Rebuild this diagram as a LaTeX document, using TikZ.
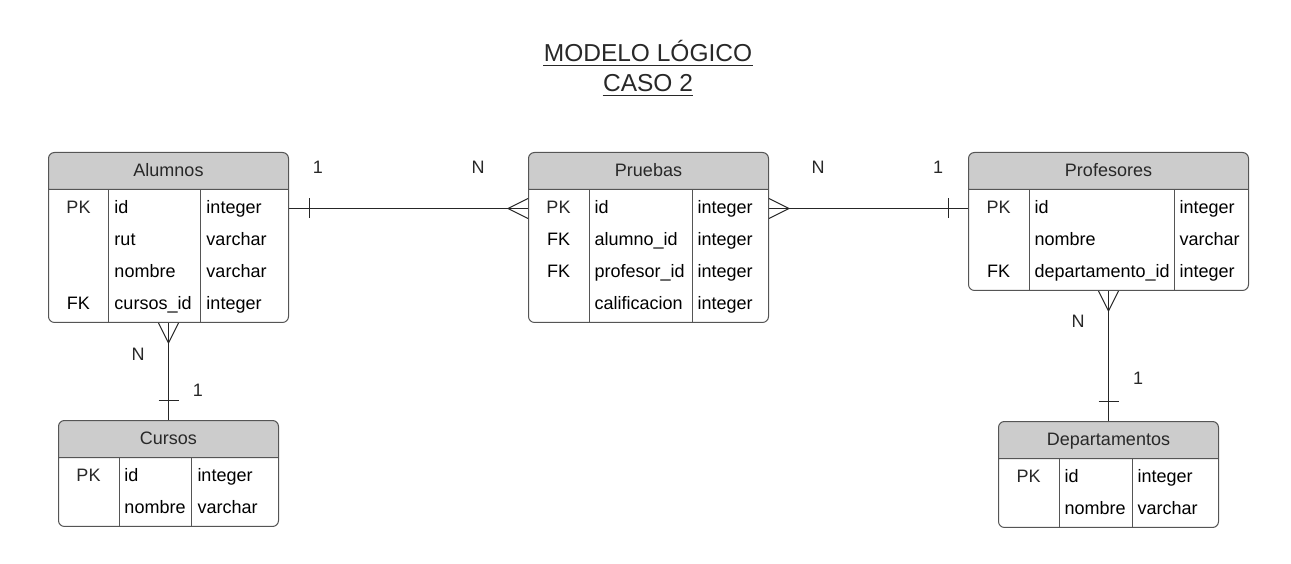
\documentclass[tikz,border=0pt]{standalone}
\usepackage{fontspec}
\setmainfont{Liberation Sans}
\usepackage{array,colortbl}
\usepackage{tikz}
\usetikzlibrary{shapes.multipart,positioning,calc}
\definecolor{mygray}{RGB}{204,204,204}
\definecolor{myline}{RGB}{85,85,85}
\definecolor{mytext}{RGB}{40,40,40}
\newcolumntype{C}[1]{>{\centering\arraybackslash}p{#1}}
\newcolumntype{L}[1]{>{\raggedright\arraybackslash}p{#1}}
\setlength{\arrayrulewidth}{1pt}
\arrayrulecolor{myline}
\renewcommand{\arraystretch}{1.481}
\newcommand{\cabecera}{\rule[-12.5pt]{0pt}{36pt}}
\newcommand{\filaarriba}{\rule{0pt}{23.4pt}}
\newcommand{\filaabajo}{\rule[-12.6pt]{0pt}{12.6pt}}

\begin{document}
\begin{tikzpicture}[
  x=1pt, y=-1pt,
  line width=1pt,
  tabla/.style={
    draw=myline,
    rounded corners=6pt,
    rectangle split,
    rectangle split parts=2,
    rectangle split part fill={mygray, white},
    inner sep=0pt,
    anchor=north west,
    text=mytext,
    font=\fontsize{18}{21.6}\selectfont
    },
  card/.style={text=mytext, font=\fontsize{18}{21.6}\selectfont},
  titulo/.style={text=mytext, inner sep=0pt, anchor=base, font=\fontsize{24.5}{30}\selectfont},
  conn/.style={draw=black!85}
]
\useasboundingbox (0,0) rectangle (1291,564);

\node[titulo] (titulo1) at (648,62) {MODELO LÓGICO};
\node[titulo] (titulo2) at (648,92) {CASO 2};
\draw[mytext, line width=1.6pt] ([yshift=-3.5pt]titulo1.base west) -- ([yshift=-3.5pt]titulo1.base east);
\draw[mytext, line width=1.6pt] ([yshift=-3.5pt]titulo2.base west) -- ([yshift=-3.5pt]titulo2.base east);

\node[tabla] (alumnos) at (48,152)
  {\cabecera Alumnos
  \nodepart{two}
  \begin{tabular}{@{}C{60pt}@{}|@{\hspace{5pt}}L{86pt}@{}|@{\hspace{5pt}}L{82pt}@{}}
    \filaarriba PK & id         & integer \\
       & rut        & varchar \\
       & nombre     & varchar \\
    \filaabajo FK & cursos\_id & integer
  \end{tabular}};

\node[tabla] (pruebas) at (528,152)
  {\cabecera Pruebas
  \nodepart{two}
  \begin{tabular}{@{}C{60pt}@{}|@{\hspace{5pt}}L{97pt}@{}|@{\hspace{5pt}}L{71pt}@{}}
    \filaarriba PK & id            & integer \\
    FK & alumno\_id    & integer \\
    FK & profesor\_id  & integer \\
    \filaabajo & calificacion  & integer
  \end{tabular}};

\node[tabla] (profesores) at (968,152)
  {\cabecera Profesores
  \nodepart{two}
  \begin{tabular}{@{}C{60pt}@{}|@{\hspace{5pt}}L{139pt}@{}|@{\hspace{5pt}}L{69pt}@{}}
    \filaarriba PK & id               & integer \\
       & nombre           & varchar \\
    \filaabajo FK & departamento\_id & integer
  \end{tabular}};

\node[tabla] (cursos) at (58,420)
  {\cabecera Cursos
  \nodepart{two}
  \begin{tabular}{@{}C{60pt}@{}|@{\hspace{5pt}}L{67pt}@{}|@{\hspace{5pt}}L{81pt}@{}}
    \filaarriba PK & id     & integer \\
    \filaabajo & nombre & varchar
  \end{tabular}};

\node[tabla] (departamentos) at (998,421)
  {\cabecera Departamentos
  \nodepart{two}
  \begin{tabular}{@{}C{60pt}@{}|@{\hspace{5pt}}L{67pt}@{}|@{\hspace{5pt}}L{81pt}@{}}
    \filaarriba PK & id     & integer \\
    \filaabajo & nombre & varchar
  \end{tabular}};

% alumnos - pruebas
\coordinate (ap1) at ([yshift=-19pt]alumnos.text split east);
\coordinate (ap2) at ([yshift=-19pt]pruebas.text split west);
\draw[conn] (ap1) -- (ap2);
\draw[conn] ($(ap1)+(20,-10)$) -- ++(0,20);
\draw[conn] ($(ap2)+(0,-10)$) -- ($(ap2)+(-20,0)$) -- ($(ap2)+(0,10)$);

% pruebas - profesores
\coordinate (pp1) at ([yshift=-19pt]pruebas.text split east);
\coordinate (pp2) at ([yshift=-19pt]profesores.text split west);
\draw[conn] (pp1) -- (pp2);
\draw[conn] ($(pp1)+(0,-10)$) -- ($(pp1)+(20,0)$) -- ($(pp1)+(0,10)$);
\draw[conn] ($(pp2)+(-20,-10)$) -- ++(0,20);

% alumnos - cursos
\draw[conn] (alumnos.south) -- (cursos.north);
\draw[conn] ($(alumnos.south)+(-10,0)$) -- ($(alumnos.south)+(0,20)$) -- ($(alumnos.south)+(10,0)$);
\draw[conn] ($(cursos.north)+(-10,-20)$) -- ++(20,0);

% profesores - departamentos
\draw[conn] (profesores.south) -- (departamentos.north);
\draw[conn] ($(profesores.south)+(-10,0)$) -- ($(profesores.south)+(0,20)$) -- ($(profesores.south)+(10,0)$);
\draw[conn] ($(departamentos.north)+(-10,-20)$) -- ++(20,0);

\node[card] (unoAP) at (318,167) {1};
\node[card] (eneAP) at (478,167) {N};
\node[card] (enePP) at (818,167) {N};
\node[card] (unoPP) at (938,167) {1};
\node[card] (eneAC) at (138,354) {N};
\node[card] (unoAC) at (198,390) {1};
\node[card] (enePD) at (1078,321) {N};
\node[card] (unoPD) at (1138,378) {1};

\end{tikzpicture}
\end{document}
